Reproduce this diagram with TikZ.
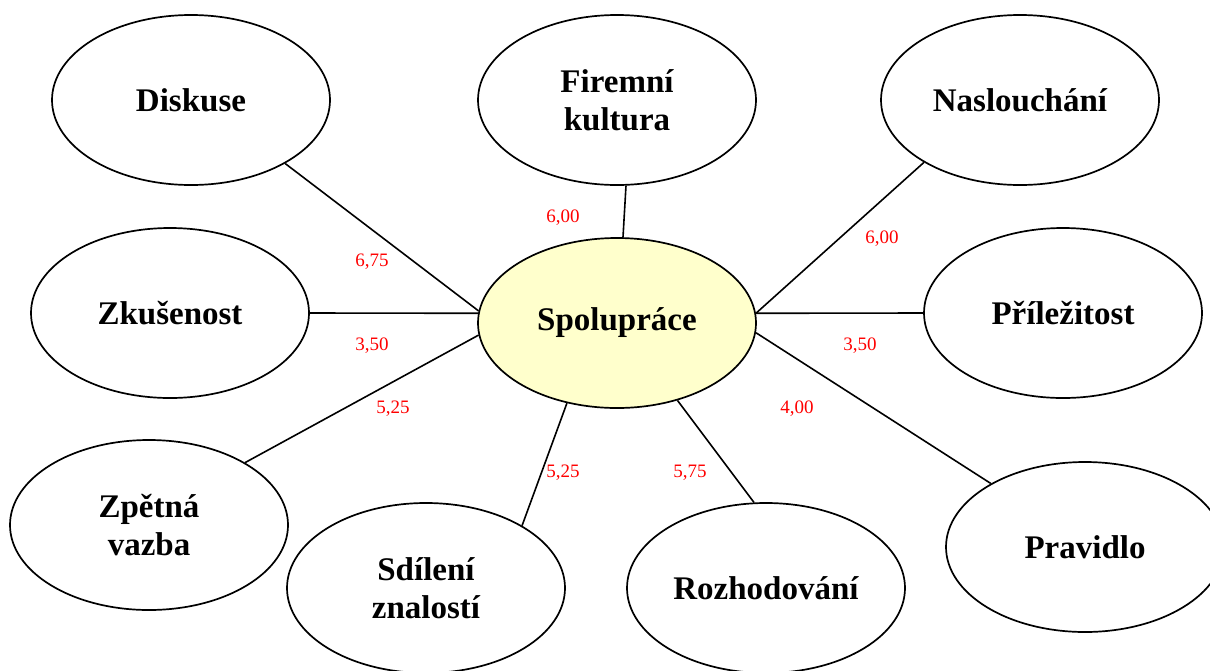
\documentclass[tikz,border=0pt]{standalone}
\usepackage{fontspec}
\setmainfont{Liberation Serif}
\usetikzlibrary{shapes.geometric}
\definecolor{hubfill}{RGB}{255,255,204}
\begin{document}
\begin{tikzpicture}[x={(1pt,0pt)},y={(0pt,-1pt)},
  bubble/.style={ellipse,draw=black,line width=1.7pt,fill=white,
    minimum width=278pt,minimum height=170pt,inner sep=0pt,
    align=center,font=\bfseries\fontsize{33}{38}\selectfont},
  hub/.style={bubble,fill=hubfill},
  link/.style={line width=1.6pt,black},
  score/.style={text=red,font=\fontsize{19}{22}\selectfont,inner sep=0pt}]
\useasboundingbox (0,0) rectangle (1210,670);
% bubbles
\node[hub]    (sp) at (617,323) {Spolupráce};
\node[bubble] (di) at (191,100) {Diskuse};
\node[bubble] (fk) at (617,100) {Firemní\\kultura};
\node[bubble] (na) at (1020,100) {Naslouchání};
\node[bubble] (zk) at (170,313) {Zkušenost};
\node[bubble] (pr) at (1063,313) {Příležitost};
\node[bubble] (zv) at (149,525) {Zpětná\\vazba};
\node[bubble] (sz) at (426,588) {Sdílení\\znalostí};
\node[bubble] (ro) at (766,588) {Rozhodování};
\node[bubble] (pv) at (1085,547) {Pravidlo};
% connectors from each bubble to the central one
\draw[link] (di.326.7) -- (sp.175.5);
\draw[link] (fk.276.7) -- (sp.86);
\draw[link] (na.213.8) -- (sp.4.5);
\draw[link] (zk.0) -- (sp.176);
\draw[link] (pr.180) -- (sp.4);
\draw[link] (zv.33.3) -- (sp.185);
\draw[link] (sz.33) -- (sp.238);
\draw[link] (ro.98.7) -- (sp.308.7);
\draw[link] (pv.146.6) -- (sp.356);
% scores
\node[score] (s1) at (372,262) {6,75};
\node[score] (s2) at (563,218) {6,00};
\node[score] (s3) at (882,239) {6,00};
\node[score] (s4) at (372,346) {3,50};
\node[score] (s5) at (860,346) {3,50};
\node[score] (s6) at (393,409) {5,25};
\node[score] (s7) at (563,473) {5,25};
\node[score] (s8) at (690,473) {5,75};
\node[score] (s9) at (797,409) {4,00};
\end{tikzpicture}
\end{document}
